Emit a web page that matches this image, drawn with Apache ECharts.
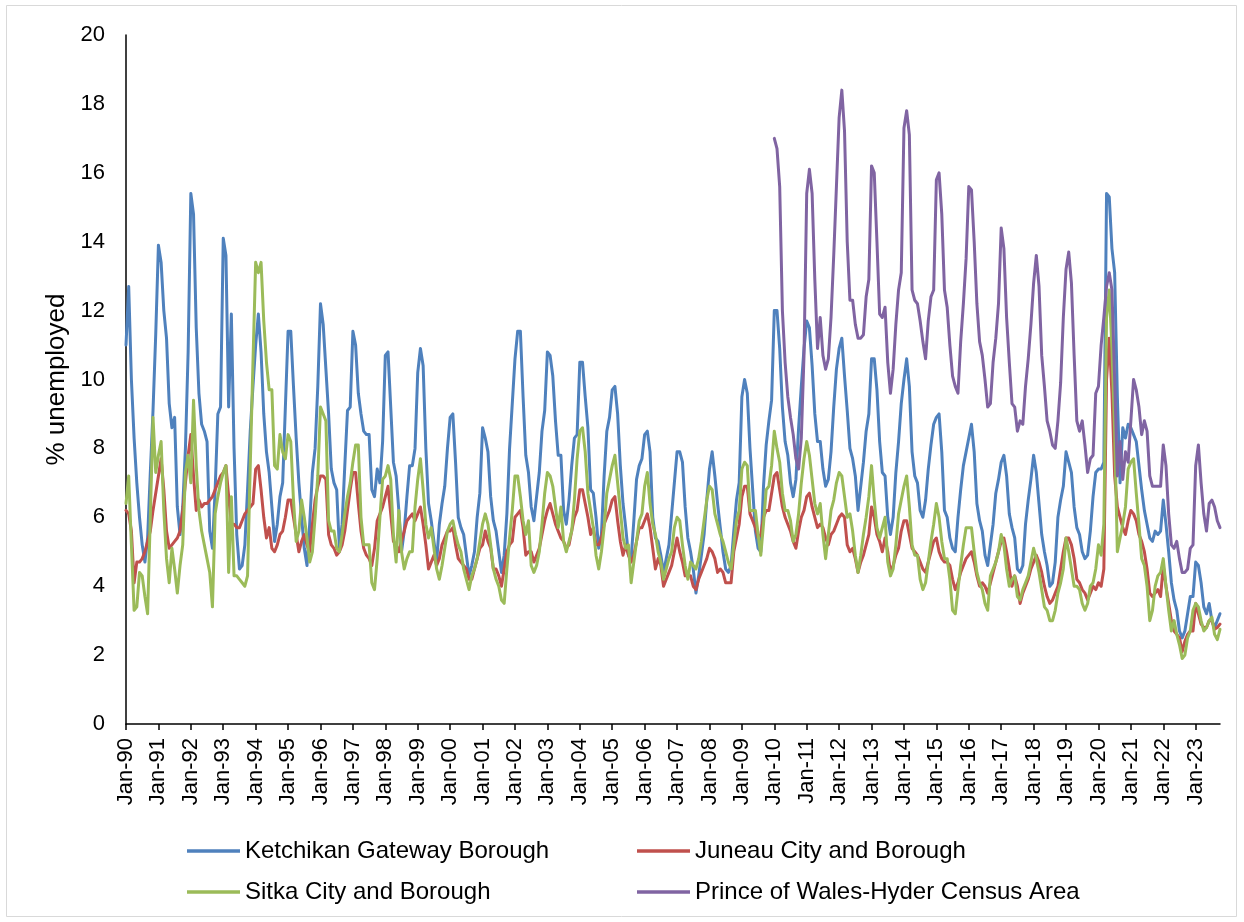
<!DOCTYPE html>
<html>
<head>
<meta charset="utf-8">
<script src="https://cdn.jsdelivr.net/npm/echarts@6/dist/echarts.min.js"></script>
<style>
html,body{margin:0;padding:0;background:#fff;}
#chart{width:1244px;height:922px;}
</style>
</head>
<body>
<div id="chart"></div>
<script>
// ---- categories ----
const monthNames = ['Jan','Feb','Mar','Apr','May','Jun','Jul','Aug','Sep','Oct','Nov','Dec'];
const startYear = 1990;
const endYear = 2023;
const lastMonthCount = 10; // Jan..Oct 2023

// ---- series values, one row per year (Jan..Dec) ----
const ketchikan = [
 [11.0,12.7,10.0,8.3,7.0,6.0,5.2,4.7,5.4,7.3,9.1,11.3],
 [13.9,13.4,12.0,11.2,9.3,8.6,8.9,6.3,5.5,6.3,8.0,10.8],
 [15.4,14.8,11.5,9.6,8.7,8.5,8.2,5.6,5.1,6.8,9.0,9.2],
 [14.1,13.6,9.2,11.9,8.0,5.5,4.5,4.6,5.2,6.8,8.5,9.8],
 [11.0,11.9,10.8,9.0,7.9,7.3,6.3,5.3,5.8,6.6,7.0,9.2],
 [11.4,11.4,9.8,8.3,7.0,6.0,5.1,4.6,5.8,7.3,8.0,9.8],
 [12.2,11.6,10.3,9.0,7.4,7.0,6.8,5.1,5.8,7.5,9.1,9.2],
 [11.4,11.0,9.6,9.0,8.5,8.4,8.4,6.8,6.6,7.4,7.0,8.2],
 [10.7,10.8,9.2,7.6,7.2,6.2,5.0,5.6,6.6,7.5,7.5,8.0],
 [10.2,10.9,10.4,8.0,6.4,5.9,5.3,4.7,5.8,6.4,6.9,8.0],
 [8.9,9.0,7.6,6.0,5.7,5.5,4.9,4.3,4.6,5.0,6.0,6.7],
 [8.6,8.3,7.9,6.6,5.9,5.6,5.0,4.4,4.9,6.1,8.0,9.3],
 [10.6,11.4,11.4,9.5,7.8,7.3,6.3,5.9,6.6,7.3,8.5,9.1],
 [10.8,10.7,10.1,8.8,7.8,7.8,6.2,5.8,6.5,7.5,8.3,8.4],
 [10.5,10.5,9.5,8.6,6.8,6.7,6.0,5.1,5.5,7.2,8.5,8.9],
 [9.7,9.8,9.0,7.5,6.4,5.7,4.9,4.8,5.9,7.1,7.5,7.7],
 [8.4,8.5,7.9,6.0,5.4,5.3,4.9,4.4,4.8,5.2,6.1,7.0],
 [7.9,7.9,7.6,6.3,5.4,5.0,4.5,3.8,4.3,4.9,5.5,6.5],
 [7.4,7.9,7.2,6.4,5.7,5.0,4.5,4.4,4.6,5.6,6.5,7.0],
 [9.5,10.0,9.6,8.0,6.8,5.6,5.1,5.0,6.9,8.1,8.8,9.4],
 [12.0,12.0,10.9,9.2,8.2,7.8,7.0,6.6,7.1,8.6,9.8,10.9],
 [11.7,11.5,10.4,9.0,8.2,8.2,7.4,6.9,7.1,7.9,9.2,10.3],
 [10.9,11.2,10.1,9.1,8.0,7.7,7.2,6.2,6.9,7.6,8.5,9.0],
 [10.6,10.6,9.7,8.2,7.3,7.2,6.0,5.5,6.0,7.3,8.2,9.3],
 [10.0,10.6,9.8,7.9,7.2,7.0,6.2,6.0,6.5,7.4,8.1,8.7],
 [8.9,9.0,7.9,6.2,6.0,5.4,5.1,5.0,6.0,6.8,7.5,7.9],
 [8.3,8.7,7.9,6.4,5.9,5.6,4.9,4.6,5.2,5.8,6.7,7.1],
 [7.6,7.8,7.2,6.1,5.7,5.4,4.5,4.4,4.6,5.8,6.5,7.1],
 [7.8,7.3,6.4,5.5,5.0,4.6,4.0,4.1,4.7,6.0,6.5,6.9],
 [7.9,7.6,7.3,6.3,5.7,5.5,5.0,4.8,4.9,5.6,6.6,7.3],
 [7.4,7.4,7.6,15.4,15.3,13.8,13.1,9.5,7.0,8.6,8.3,8.7],
 [8.6,8.4,8.2,7.5,6.8,6.2,5.8,5.4,5.3,5.6,5.5,5.6],
 [6.5,5.8,5.0,4.1,3.6,3.3,2.7,2.5,2.7,3.2,3.7,3.7],
 [4.7,4.6,4.1,3.4,3.2,3.5,3.0,2.8,3.0,3.2]
];
const juneau = [
 [6.2,6.1,5.6,4.1,4.7,4.7,4.8,5.0,5.3,5.6,6.2,6.7],
 [7.2,7.7,6.8,5.6,5.1,5.2,5.3,5.4,5.6,6.2,7.0,7.8],
 [8.4,7.2,6.2,6.5,6.3,6.4,6.4,6.5,6.6,6.8,7.0,7.2],
 [7.3,7.5,6.6,5.8,5.8,5.7,5.7,5.9,6.1,6.2,6.3,6.4],
 [7.4,7.5,6.8,6.0,5.4,5.7,5.1,5.0,5.2,5.5,5.6,6.0],
 [6.5,6.5,6.0,5.5,5.0,5.3,5.5,5.2,5.0,5.8,6.5,6.9],
 [7.2,7.2,7.1,5.5,5.2,5.1,4.9,5.0,5.2,5.6,6.2,6.8],
 [7.3,7.3,6.4,5.6,5.1,4.9,4.8,4.6,5.1,5.9,6.1,6.3],
 [6.6,6.9,6.1,5.3,5.2,5.0,5.3,5.6,5.9,6.0,6.1,5.9],
 [6.1,6.3,5.8,5.2,4.5,4.7,4.9,4.6,4.8,5.2,5.4,5.6],
 [5.6,5.7,5.2,4.8,4.7,4.6,4.5,4.2,4.2,4.5,4.8,5.1],
 [5.2,5.6,5.3,5.1,4.5,4.5,4.3,4.0,4.5,5.0,5.2,5.3],
 [6.0,6.1,6.2,5.7,4.9,5.0,5.0,4.7,4.9,5.1,5.5,5.9],
 [6.2,6.4,6.1,5.8,5.6,5.4,5.3,5.1,5.2,5.6,6.0,6.2],
 [6.8,6.8,6.4,6.0,5.5,5.7,5.2,5.2,5.4,5.8,6.0,6.2],
 [6.5,6.6,5.9,5.3,4.9,5.2,4.9,4.7,4.9,5.3,5.7,5.7],
 [5.9,6.1,5.7,5.1,4.5,4.8,4.6,4.0,4.2,4.4,4.6,5.0],
 [5.4,5.0,4.7,4.3,4.3,4.3,4.0,3.9,4.2,4.4,4.6,4.8],
 [5.1,5.0,4.8,4.4,4.5,4.4,4.1,4.1,4.1,5.0,5.4,5.8],
 [6.6,6.9,6.9,6.1,5.9,5.7,5.4,5.5,6.0,6.2,6.2,6.7],
 [7.2,7.3,6.8,6.3,6.0,5.8,5.6,5.3,5.1,5.6,6.0,6.2],
 [6.6,6.7,6.3,6.0,5.7,5.8,5.7,5.4,5.2,5.5,5.6,5.8],
 [6.0,6.1,6.0,5.2,5.0,5.1,4.8,4.4,4.7,4.9,5.2,5.5],
 [6.3,6.0,5.5,5.3,5.0,5.4,5.0,4.4,4.6,4.9,5.1,5.6],
 [5.9,5.9,5.5,5.1,5.0,4.9,4.7,4.5,4.4,4.7,5.0,5.3],
 [5.4,5.0,4.8,4.7,4.7,4.6,4.2,3.9,4.1,4.4,4.6,4.8],
 [4.9,5.0,4.7,4.3,4.0,4.1,4.0,3.8,4.1,4.4,4.7,5.0],
 [5.3,5.4,5.0,4.5,4.0,4.3,4.0,3.5,3.8,4.0,4.2,4.5],
 [4.7,4.9,4.7,4.4,4.0,3.7,3.5,3.6,3.8,4.0,4.5,5.0],
 [5.4,5.4,5.2,4.8,4.2,4.1,3.9,3.8,3.6,3.8,4.0,3.9],
 [4.1,4.0,4.5,10.0,11.2,9.6,7.2,6.3,6.0,5.7,5.5,5.9],
 [6.2,6.1,5.9,5.5,5.3,5.0,4.5,3.8,3.7,3.8,3.9,3.7],
 [4.6,4.0,3.5,3.0,2.7,2.6,2.5,2.1,2.4,2.6,2.7,2.7],
 [3.5,3.2,2.9,2.8,2.8,3.0,3.0,2.75,2.8,2.9]
];
const sitka = [
 [6.4,7.2,5.2,3.3,3.4,4.4,4.3,3.7,3.2,6.0,8.9,7.3],
 [7.8,8.2,6.2,4.8,4.1,5.1,4.5,3.8,4.6,5.2,7.3,7.8],
 [7.0,9.4,7.5,6.2,5.6,5.2,4.8,4.4,3.4,6.1,6.6,7.0],
 [7.3,7.5,4.4,6.6,4.3,4.3,4.2,4.1,4.0,4.3,7.5,10.5],
 [13.4,13.1,13.4,11.7,10.5,9.7,9.7,7.5,7.4,8.4,7.9,7.7],
 [8.4,8.2,6.5,5.3,5.6,6.5,6.0,5.4,4.7,5.0,6.0,7.2],
 [9.2,9.0,8.8,5.9,5.6,5.6,5.1,5.0,5.5,6.1,6.6,7.0],
 [7.6,8.1,8.1,6.0,5.2,5.2,5.2,4.1,3.9,4.8,6.0,7.1],
 [7.2,7.5,7.1,5.5,4.7,6.2,5.0,4.5,4.8,5.0,5.0,6.3],
 [7.1,7.7,6.8,5.8,5.4,5.7,5.1,4.5,4.2,4.6,5.1,5.6],
 [5.8,5.9,5.5,5.2,5.0,4.5,4.2,3.9,4.3,4.5,4.8,5.3],
 [5.8,6.1,5.8,5.2,4.5,4.2,4.0,3.6,3.5,4.5,5.4,6.2],
 [7.2,7.2,6.6,5.9,5.5,5.9,4.6,4.4,4.6,5.0,5.8,6.7],
 [7.3,7.2,6.9,6.3,5.7,6.3,5.3,5.0,5.3,5.6,6.5,7.7],
 [8.5,8.6,7.9,6.7,6.2,5.7,4.9,4.5,5.0,5.7,6.7,7.1],
 [7.5,7.8,7.0,6.2,5.4,5.1,5.2,4.1,4.7,5.3,5.9,6.1],
 [6.9,7.3,6.4,5.8,5.5,5.0,4.7,4.2,4.5,4.8,5.0,5.7],
 [6.0,5.9,5.2,4.6,4.2,4.7,4.6,4.5,4.8,5.3,5.9,6.5],
 [6.9,6.8,6.1,5.8,5.5,5.3,5.0,4.7,4.5,5.2,5.9,6.2],
 [7.4,7.6,7.5,6.2,6.2,6.2,5.5,4.9,5.8,6.8,6.9,7.5],
 [8.5,8.0,7.6,6.7,6.2,6.2,5.9,5.3,5.5,6.1,7.0,7.7],
 [8.2,7.8,7.1,6.4,6.1,6.4,5.5,4.8,5.5,6.2,6.5,7.0],
 [7.3,7.2,6.6,6.0,6.1,5.6,4.9,4.4,4.9,5.5,6.0,6.6],
 [7.5,6.5,5.7,5.4,5.7,6.0,4.7,4.3,4.5,5.2,6.1,6.5],
 [6.9,7.2,6.3,5.2,4.9,4.9,4.2,3.9,4.1,4.7,5.3,5.8],
 [6.4,6.0,5.3,4.8,4.8,4.2,3.3,3.2,3.9,4.6,5.2,5.7],
 [5.7,5.7,5.0,4.4,4.1,3.9,3.5,3.3,4.3,4.5,4.7,5.0],
 [5.5,5.2,4.5,4.0,4.2,4.3,3.7,3.6,3.9,4.1,4.3,4.7],
 [5.1,4.8,4.4,3.9,3.4,3.3,3.0,3.0,3.3,3.8,4.1,4.5],
 [5.4,5.0,4.5,4.0,4.0,3.9,3.5,3.3,3.5,4.0,4.1,4.5],
 [5.2,4.9,5.8,11.8,12.6,10.9,8.5,5.0,5.4,5.8,6.3,7.4],
 [7.6,7.7,6.7,5.8,4.8,4.6,4.0,3.0,3.3,4.0,4.3,4.4],
 [4.8,4.0,3.3,2.7,3.0,2.6,2.3,1.9,2.0,2.5,2.7,3.3],
 [3.5,3.4,3.0,2.7,2.8,3.0,3.1,2.6,2.45,2.75]
];
// Prince of Wales-Hyder: series begins Jan-2010
const powStartYear = 2010;
const princeOfWales = [
 [17.0,16.7,15.6,12.0,10.5,9.5,8.9,8.4,7.7,7.4,8.3,10.7],
 [15.4,16.1,15.4,12.9,10.9,11.8,10.7,10.3,10.6,11.8,13.6,15.6],
 [17.6,18.4,17.2,14.0,12.3,12.3,11.6,11.2,11.2,11.3,12.4,12.9],
 [16.2,16.0,14.0,11.9,11.8,12.1,10.5,9.6,10.3,11.6,12.6,13.1],
 [17.3,17.8,17.1,12.6,12.3,12.2,11.7,11.1,10.6,11.7,12.4,12.6],
 [15.8,16.0,14.8,12.6,12.1,11.0,10.1,9.8,9.6,11.1,12.2,13.5],
 [15.6,15.5,14.0,12.2,11.1,10.7,10.0,9.2,9.3,10.5,11.2,12.2],
 [14.4,13.8,11.8,10.5,9.3,9.2,8.5,8.8,8.7,9.8,10.6,11.6],
 [12.8,13.6,12.7,10.7,9.8,8.8,8.5,8.1,8.0,8.8,9.9,11.8],
 [13.2,13.7,12.8,10.7,8.8,8.5,8.8,8.1,7.3,7.7,7.8,9.6],
 [9.8,11.0,11.8,12.7,13.1,12.6,10.0,7.2,8.2,7.1,7.9,7.6],
 [8.8,10.0,9.7,9.2,8.4,8.8,8.5,7.2,6.9,6.9,6.9,6.9],
 [8.1,7.5,6.1,5.2,5.1,5.3,4.8,4.4,4.4,4.5,5.1,5.2],
 [7.5,8.1,7.0,6.1,5.6,6.4,6.5,6.3,5.9,5.7]
];

const seriesNames = ['Ketchikan Gateway Borough','Juneau City and Borough','Sitka City and Borough','Prince of Wales-Hyder Census Area'];
const seriesColors = ['#4F81BD','#C0504D','#9BBB59','#8064A2'];

// ---- build category labels ----
const categories = [];
for (let y = startYear; y <= endYear; y++) {
  const n = (y === endYear) ? lastMonthCount : 12;
  for (let m = 0; m < n; m++) categories.push(monthNames[m] + '-' + String(y % 100).padStart(2, '0'));
}
const flat = rows => rows.reduce((a, r) => a.concat(r), []);
const powOffset = (powStartYear - startYear) * 12;
const powData = new Array(powOffset).fill(null).concat(flat(princeOfWales));
const seriesData = [flat(ketchikan), flat(juneau), flat(sitka), powData];

const FONT = '"Liberation Sans", Arial, Helvetica, sans-serif';
const chart = echarts.init(document.getElementById('chart'), null, {renderer: 'canvas'});

const legendPos = [[187, 839], [637, 839], [187, 880], [637, 880]];

chart.setOption({
  animation: false,
  backgroundColor: '#fff',
  textStyle: {fontFamily: FONT},
  graphic: [{
    type: 'rect', silent: true,
    shape: {x: 6.5, y: 5.5, width: 1230, height: 911},
    style: {fill: 'none', stroke: '#D9D9D9', lineWidth: 1}
  }],
  grid: {left: 126, right: 24, top: 35, bottom: 198, containLabel: false},
  legend: seriesNames.map((n, i) => ({
    data: [n],
    left: legendPos[i][0], top: legendPos[i][1],
    padding: 0,
    icon: 'rect', itemWidth: 53, itemHeight: 3.5,
    textStyle: {fontSize: 24, color: '#000', fontFamily: FONT},
    selectedMode: false
  })),
  xAxis: {
    type: 'category',
    data: categories,
    boundaryGap: false,
    axisLine: {lineStyle: {color: '#000', width: 1.5}},
    axisTick: {show: true, interval: 11, length: 6, lineStyle: {color: '#000', width: 1.5}},
    axisLabel: {interval: 11, rotate: 90, fontSize: 22, color: '#000', margin: 14, fontFamily: FONT},
    splitLine: {show: false}
  },
  yAxis: {
    type: 'value',
    min: 0, max: 20, interval: 2,
    name: '% unemployed',
    nameLocation: 'middle',
    nameRotate: 90,
    nameGap: 55,
    nameTextStyle: {fontSize: 26, color: '#000', fontFamily: FONT},
    axisLine: {show: true, lineStyle: {color: '#000', width: 1.5}},
    axisTick: {show: false},
    axisLabel: {fontSize: 22, color: '#000', margin: 21, fontFamily: FONT},
    splitLine: {show: false}
  },
  series: seriesNames.map((n, i) => ({
    name: n,
    type: 'line',
    data: seriesData[i],
    showSymbol: false,
    symbol: 'none',
    connectNulls: false,
    color: seriesColors[i],
    lineStyle: {color: seriesColors[i], width: 3, cap: 'round', join: 'round'},
    emphasis: {disabled: true}
  }))
});
</script>
</body>
</html>
